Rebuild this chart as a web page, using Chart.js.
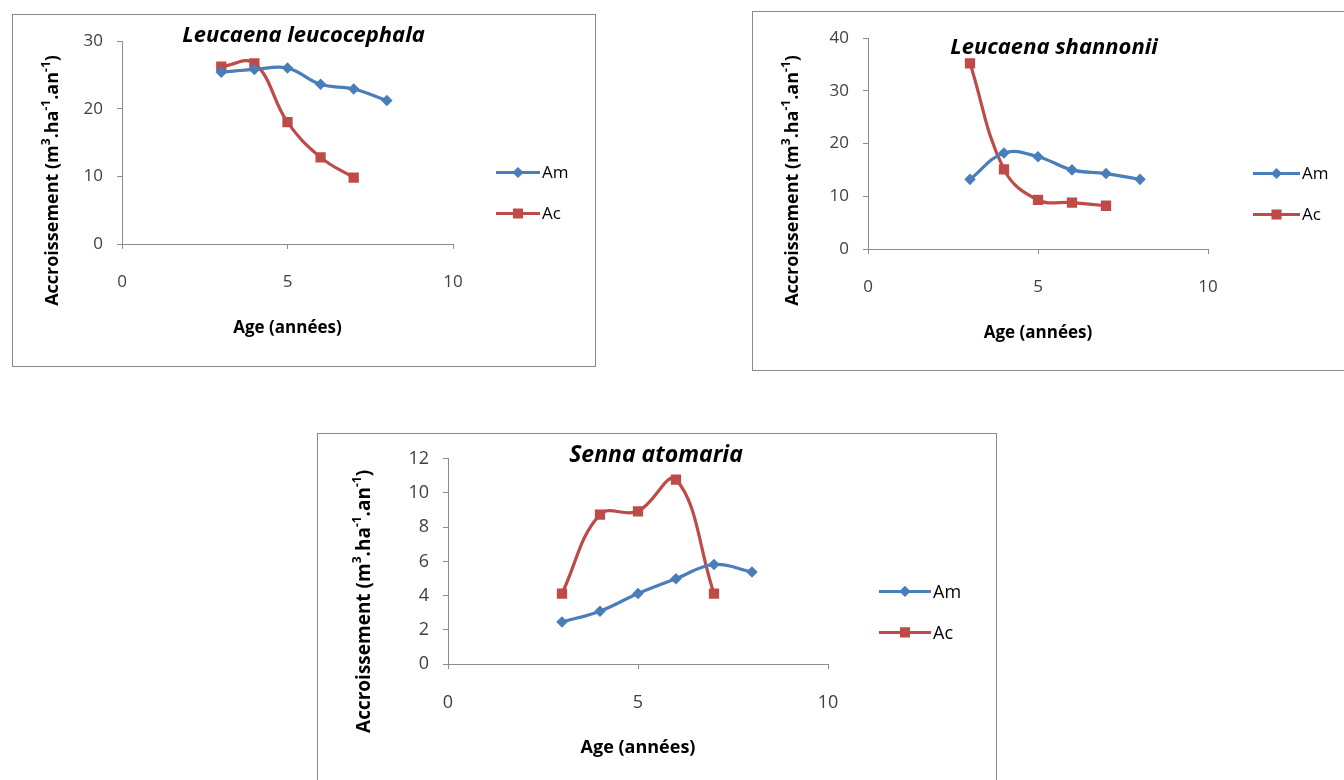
<!DOCTYPE html>
<html lang="fr">
<head>
  <meta charset="UTF-8" />
  <title>Accroissement</title>
  <script src="https://cdn.jsdelivr.net/npm/chart.js"></script>
  <style>
    html, body { margin: 0; padding: 0; background: #fff; width: 1344px; height: 780px; overflow: hidden; }
    .box { position: absolute; border: 1px solid #8a8a8a; background: #fff; }
    .box canvas { position: absolute; left: 0; top: 0; }
  </style>
</head>
<body>
  <div class="box" style="left:12px;top:14px;width:582px;height:351px;"><canvas id="myChart01"></canvas></div>
  <div class="box" style="left:752px;top:11px;width:598px;height:358px;"><canvas id="myChart02"></canvas></div>
  <div class="box" style="left:317px;top:433px;width:678px;height:355px;"><canvas id="myChart03"></canvas></div>

  <script>
    // données
    const ages = [3, 4, 5, 6, 7, 8];
    const seriesNames = ["Am", "Ac"];
    const xTicks = [0, 5, 10];

    const leucoAm = [25.4, 25.8, 26.0, 23.6, 22.9, 21.2];
    const leucoAc = [26.2, 26.7, 18.0, 12.8, 9.8];
    const leucoYTicks = [0, 10, 20, 30];

    const shannAm = [13.2, 18.2, 17.5, 15.0, 14.3, 13.2];
    const shannAc = [35.2, 15.1, 9.3, 8.8, 8.2];
    const shannYTicks = [0, 10, 20, 30, 40];

    const sennaAm = [2.46, 3.09, 4.12, 4.99, 5.82, 5.38];
    const sennaAc = [4.12, 8.74, 8.93, 10.78, 4.12];
    const sennaYTicks = [0, 2, 4, 6, 8, 10, 12];

    const xTitle = "Age (années)";
    const FONT = "'Open Sans', sans-serif";
    const BLUE = "#4a7ebb";
    const RED = "#be4b48";
    const AXIS = "#8c8c8c";

    Chart.defaults.font.family = FONT;
    Chart.defaults.color = "#404040";

    // texte avec exposants, dessiné tourné
    function drawYTitle(ctx, x, y, size) {
      const parts = [["Accroissement (m", 0], ["3", 1], [".ha", 0], ["-1", 1], [".an", 0], ["-1", 1], [")", 0]];
      const big = "bold " + size + "px " + FONT;
      const small = "bold " + Math.round(size * 0.65) + "px " + FONT;
      let total = 0;
      parts.forEach(p => { ctx.font = p[1] ? small : big; total += ctx.measureText(p[0]).width; });
      ctx.save();
      ctx.translate(x, y);
      ctx.rotate(-Math.PI / 2);
      ctx.fillStyle = "#000";
      ctx.textBaseline = "middle";
      ctx.textAlign = "left";
      let cx = -total / 2;
      parts.forEach(p => {
        ctx.font = p[1] ? small : big;
        ctx.fillText(p[0], cx, p[1] ? -size * 0.38 : 0);
        cx += ctx.measureText(p[0]).width;
      });
      ctx.restore();
    }

    const decorPlugin = {
      id: "decor",
      afterDraw(chart, args, opts) {
        const { ctx, chartArea } = chart;
        const s = opts.scale;
        const midX = (chartArea.left + chartArea.right) / 2;
        const midY = (chartArea.top + chartArea.bottom) / 2;

        // titre de l'espèce
        ctx.save();
        ctx.font = "italic bold " + Math.round(22 * s) + "px " + FONT;
        ctx.fillStyle = "#000";
        ctx.textAlign = "center";
        ctx.textBaseline = "middle";
        ctx.fillText(opts.title, midX + opts.titleDx, chartArea.top + opts.titleDy);
        ctx.restore();

        drawYTitle(ctx, chartArea.left + opts.yTitleDx, midY + opts.yTitleDy, Math.round(17.5 * s));

        // légende
        chart.data.datasets.forEach((ds, i) => {
          const y = midY + opts.legendDy + i * 41;
          const x0 = chartArea.right + opts.legendDx;
          const x1 = x0 + opts.legendLen;
          ctx.save();
          ctx.strokeStyle = ds.borderColor;
          ctx.lineWidth = 3;
          ctx.beginPath();
          ctx.moveTo(x0, y);
          ctx.lineTo(x1, y);
          ctx.stroke();
          ctx.fillStyle = ds.borderColor;
          ctx.strokeStyle = ds.borderColor;
          Chart.helpers.drawPoint(ctx, { pointStyle: ds.pointStyle, radius: ds.pointRadius, rotation: 0, borderWidth: 1 }, (x0 + x1) / 2, y);
          ctx.fillStyle = "#000";
          ctx.font = Math.round(17 * s) + "px " + FONT;
          ctx.textAlign = "left";
          ctx.textBaseline = "middle";
          ctx.fillText(ds.label, x1 + 2, y + 1);
          ctx.restore();
        });
      }
    };

    function toPoints(values) {
      return values.map((v, i) => ({ x: ages[i], y: v }));
    }

    function makeChart(id, am, ac, yTicks, g) {
      const canvas = document.getElementById(id);
      canvas.width = g.w;
      canvas.height = g.h;
      const s = g.scale;
      const fs = Math.round(17 * s);
      const lh = fs * 1.2;
      const xH = g.h - g.bottom;
      return new Chart(canvas, {
        type: "line",
        data: {
          datasets: [
            {
              label: seriesNames[0], data: toPoints(am),
              borderColor: BLUE, backgroundColor: BLUE, borderWidth: 3.2,
              pointStyle: "rectRot", pointRadius: 3.5, tension: 0.4, clip: false
            },
            {
              label: seriesNames[1], data: toPoints(ac),
              borderColor: RED, backgroundColor: RED, borderWidth: 3.2,
              pointStyle: "rect", pointRadius: 5, tension: 0.4, clip: false
            }
          ]
        },
        options: {
          responsive: false,
          animation: false,
          layout: { padding: { left: 0, top: g.top, right: g.w - g.right, bottom: 0 } },
          plugins: {
            legend: { display: false },
            tooltip: { enabled: false },
            decor: {
              title: g.title, scale: s,
              titleDx: g.titleDx, titleDy: g.titleDy,
              yTitleDx: g.yTitleDx, yTitleDy: g.yTitleDy,
              legendDx: g.legendDx, legendLen: g.legendLen, legendDy: 30
            }
          },
          scales: {
            x: {
              type: "linear", min: 0, max: 10,
              afterBuildTicks: (sc) => { sc.ticks = xTicks.map(v => ({ value: v })); },
              afterFit: (sc) => { sc.height = xH; },
              ticks: { padding: 23, font: { size: fs } },
              grid: { drawOnChartArea: false, drawTicks: true, tickLength: 5, color: AXIS },
              border: { display: true, color: AXIS, width: 1 },
              title: {
                display: true, text: xTitle, color: "#000",
                font: { size: fs, weight: "bold" },
                padding: { top: 0, bottom: xH - 84 - lh / 2 }
              }
            },
            y: {
              type: "linear", min: yTicks[0], max: yTicks[yTicks.length - 1],
              afterBuildTicks: (sc) => { sc.ticks = yTicks.map(v => ({ value: v })); },
              afterFit: (sc) => { sc.width = g.left; },
              ticks: { padding: 14, font: { size: fs } },
              grid: { drawOnChartArea: false, drawTicks: true, tickLength: 5, color: AXIS },
              border: { display: true, color: AXIS, width: 1 }
            }
          }
        },
        plugins: [decorPlugin]
      });
    }

    // Leucaena leucocephala
    makeChart("myChart01", leucoAm, leucoAc, leucoYTicks, {
      w: 582, h: 351, left: 109, right: 440, top: 26, bottom: 229, scale: 1,
      title: "Leucaena leucocephala", titleDx: 16, titleDy: -5,
      yTitleDx: -69, yTitleDy: 38, legendDx: 43, legendLen: 44
    });

    // Leucaena shannonii
    makeChart("myChart02", shannAm, shannAc, shannYTicks, {
      w: 598, h: 358, left: 115, right: 455, top: 26, bottom: 237, scale: 1,
      title: "Leucaena shannonii", titleDx: 16, titleDy: 10,
      yTitleDx: -75, yTitleDy: 37, legendDx: 45, legendLen: 47
    });

    // Senna atomaria
    makeChart("myChart03", sennaAm, sennaAc, sennaYTicks, {
      w: 678, h: 355, left: 130, right: 510, top: 24, bottom: 230, scale: 1.06,
      title: "Senna atomaria", titleDx: 18, titleDy: -3,
      yTitleDx: -83, yTitleDy: 40, legendDx: 51, legendLen: 52
    });
  </script>
</body>
</html>
